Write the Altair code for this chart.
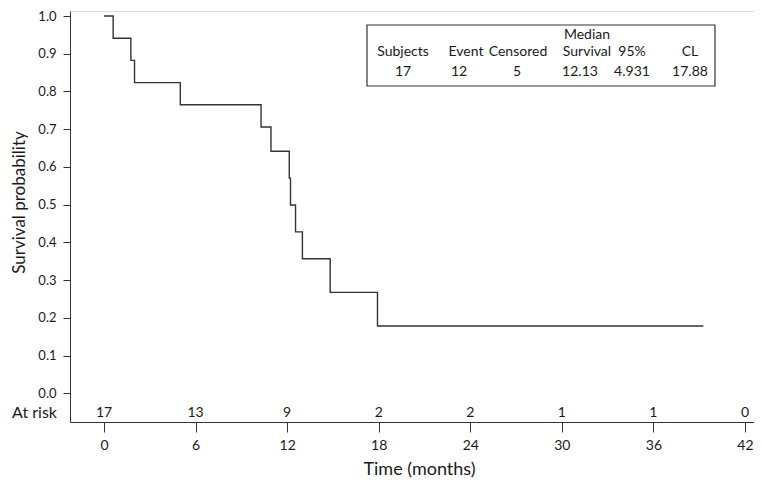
import altair as alt
import pandas as pd

# Kaplan-Meier step curve
times = [0, 0.6, 1.76, 2.0, 5.0, 10.29, 10.94, 12.14, 12.22, 12.55, 13.0, 14.82, 17.92, 39.27]
survival = [1.0, 0.9412, 0.8824, 0.8235, 0.7647, 0.7059, 0.6417, 0.5704, 0.4991, 0.4278, 0.3565, 0.2674, 0.1783, 0.1783]

# Numbers at risk
risk_times = [0, 6, 12, 18, 24, 30, 36, 42]
risk_counts = [17, 13, 9, 2, 2, 1, 1, 0]

# Summary table
headers = ["Subjects", "Event", "Censored", "Survival", "95%", "CL"]
values = ["17", "12", "5", "12.13", "4.931", "17.88"]
header_top = "Median"

FONT = "Lato"
INK = "#1a1a1a"
LINE = "#333333"

km = pd.DataFrame({"t": times, "s": survival})
risk = pd.DataFrame({"t": risk_times, "n": [str(v) for v in risk_counts]})

# layout (pixel positions of the table columns inside the plot area)
head_x = [333, 396, 448, 517, 562, 620]
val_x = [333, 389, 447, 510, 562, 620]
head_df = pd.DataFrame({"label": headers, "px": head_x})
val_df = pd.DataFrame({"label": values, "px": val_x})

xscale = alt.Scale(domain=[-2.228, 42.59], nice=False, zero=False)
yscale = alt.Scale(domain=[-0.0761, 1.0133], nice=False, zero=False)

line = alt.Chart(km).mark_line(interpolate="step-after", color=LINE, strokeWidth=1.4).encode(
    x=alt.X("t:Q", scale=xscale,
            axis=alt.Axis(values=risk_times, title="Time (months)", tickSize=10,
                          labelPadding=6, labelFontSize=14, titleFontSize=18,
                          titleFontWeight="normal", titlePadding=8, titleX=349,
                          grid=False, domainColor=LINE, tickColor=LINE,
                          labelColor=INK, titleColor=INK, labelFont=FONT, titleFont=FONT)),
    y=alt.Y("s:Q", scale=yscale,
            axis=alt.Axis(values=[i / 10 for i in range(11)], format=".1f",
                          title="Survival probability", tickSize=7, labelPadding=7,
                          labelFontSize=13, titleFontSize=17, titleFontWeight="normal",
                          titleX=-51, titleY=191, titleAngle=-90, titleAlign="center",
                          titleBaseline="middle", grid=False, domainColor=LINE,
                          tickColor=LINE, labelColor=INK, titleColor=INK,
                          labelFont=FONT, titleFont=FONT)),
)

risk_text = alt.Chart(risk).mark_text(fontSize=14, font=FONT, color=INK, baseline="middle").encode(
    x=alt.X("t:Q", scale=xscale),
    y=alt.value(402),
    text="n:N",
)

risk_label = alt.Chart(pd.DataFrame({"label": ["At risk"]})).mark_text(
    fontSize=16, font=FONT, color=INK, align="right", baseline="middle"
).encode(x=alt.value(-13), y=alt.value(402), text="label:N")

box = alt.Chart(pd.DataFrame({"a": [0]})).mark_rect(
    fill="white", stroke=LINE, strokeWidth=1.2
).encode(x=alt.value(297), x2=alt.value(645), y=alt.value(14), y2=alt.value(75))

median_text = alt.Chart(pd.DataFrame({"label": [header_top]})).mark_text(
    fontSize=14, font=FONT, color=INK, baseline="middle"
).encode(x=alt.value(517), y=alt.value(24), text="label:N")

head_text = alt.Chart(head_df).mark_text(fontSize=14, font=FONT, color=INK, baseline="middle").encode(
    x=alt.X("px:Q", scale=None), y=alt.value(41), text="label:N"
)
val_text = alt.Chart(val_df).mark_text(fontSize=14, font=FONT, color=INK, baseline="middle").encode(
    x=alt.X("px:Q", scale=None), y=alt.value(61), text="label:N"
)

chart = alt.layer(line, risk_text, risk_label, box, median_text, head_text, val_text).properties(
    width=684, height=411,
    autosize=alt.AutoSizeParams(type="none"),
    padding={"left": 62, "top": 3, "right": 0, "bottom": 56},
).configure_view(stroke=None).configure(background="white")

chart.save("out.html", embed_options={"renderer": "svg", "actions": False})
